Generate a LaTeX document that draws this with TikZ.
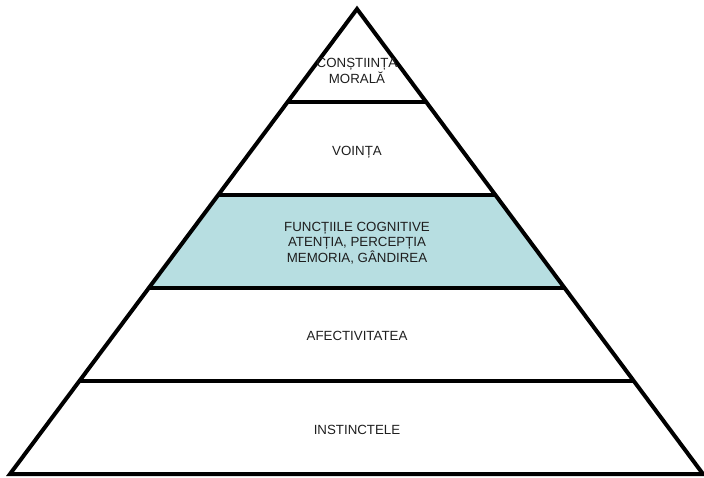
\documentclass[tikz,border=0pt]{standalone}
\usepackage{fontspec}
\setmainfont{Liberation Sans}
\usetikzlibrary{calc}
\definecolor{cogfill}{RGB}{183,222,225}
\definecolor{txt}{RGB}{30,30,30}
\begin{document}
\begin{tikzpicture}[x=1pt,y=-1pt,
  edge/.style={line width=4pt,line join=miter},
  divider/.style={line width=4.5pt},
  label/.style={text=txt,font=\fontsize{13.3}{15.5}\selectfont,align=center,inner sep=0pt}]
\useasboundingbox (0,0) rectangle (704,477);
\coordinate (A) at (357,9);
\coordinate (BL) at (10,474);
\coordinate (BR) at (703,474);
\foreach \i/\t in {1/0.2,2/0.4,3/0.6,4/0.8}{
  \coordinate (L\i) at ($(A)!\t!(BL)$);
  \coordinate (R\i) at ($(A)!\t!(BR)$);
}
\fill[cogfill] (L2) -- (R2) -- (R3) -- (L3) -- cycle;
\draw[divider] (L1) -- (R1);
\draw[divider] (L2) -- (R2);
\draw[divider] (L3) -- (R3);
\draw[divider] (L4) -- (R4);
\draw[edge] (A) -- (BR) -- (BL) -- cycle;
\node[label] (moral) at (357,71) {CONȘTIINȚA\\MORALĂ};
\node[label] (vointa) at (357,152) {VOINȚA};
\node[label] (cogn) at (357,243) {FUNCȚIILE COGNITIVE\\ATENȚIA, PERCEPȚIA\\MEMORIA, GÂNDIREA};
\node[label] (afect) at (357,336) {AFECTIVITATEA};
\node[label] (instinct) at (357,430) {INSTINCTELE};
\end{tikzpicture}
\end{document}
